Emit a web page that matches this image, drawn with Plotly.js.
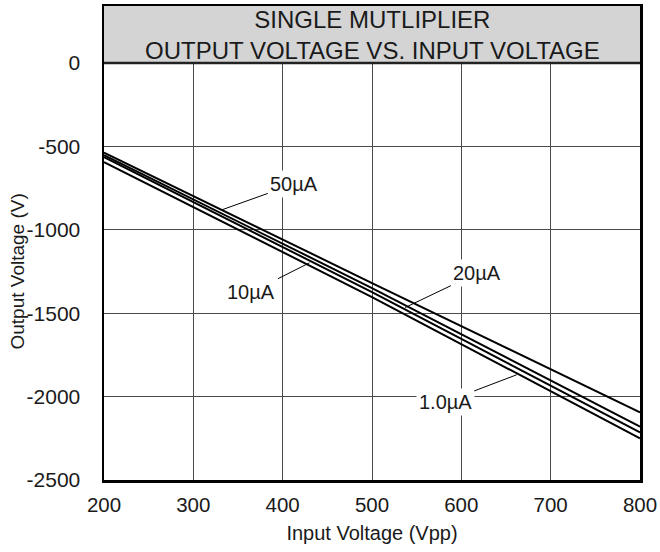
<!DOCTYPE html>
<html>
<head>
<meta charset="utf-8">
<script src="https://cdn.plot.ly/plotly-3.0.1.min.js"></script>
<style>html,body{margin:0;padding:0;background:#fff;}#chart{width:660px;height:552px;}</style>
</head>
<body>
<div id="chart"></div>
<script>
// Data
var inputVoltage = [200, 500, 800];
var out50uA = [-537, -1319, -2095];
var out20uA = [-552, -1349, -2180];
var out10uA = [-564, -1373, -2215];
var out1uA  = [-594, -1403, -2250];
var seriesNames = ['50µA', '20µA', '10µA', '1.0µA'];
var xTicks = [200, 300, 400, 500, 600, 700, 800];
var yTicks = [0, -500, -1000, -1500, -2000, -2500];

var FONT = 'Liberation Sans, Arial, sans-serif';
var INK = '#1a1a1a';
var lineStyle = {color: '#000', width: 2};
var traces = [out50uA, out20uA, out10uA, out1uA].map(function (ys, i) {
  return {x: inputVoltage, y: ys, type: 'scatter', mode: 'lines', name: seriesNames[i],
          line: lineStyle, hoverinfo: 'skip'};
});

function label(text, px, py, tx, ty) {
  return {text: text, x: px, y: py, ax: tx, ay: ty, xref: 'x', yref: 'y', axref: 'x', ayref: 'y',
          showarrow: true, arrowhead: 0, arrowwidth: 1, arrowcolor: '#000',
          bgcolor: '#fff', borderpad: 2, font: {family: FONT, size: 20, color: INK}};
}

var layout = {
  width: 660, height: 552,
  margin: {l: 104, r: 20, t: 6, b: 72},
  paper_bgcolor: '#fff', plot_bgcolor: '#fff',
  showlegend: false,
  font: {family: FONT, size: 20, color: INK},
  xaxis: {
    range: [200, 800], tickvals: xTicks, ticktext: xTicks.map(String),
    showgrid: true, gridcolor: '#4a4a4a', gridwidth: 1, zeroline: false,
    showline: true, linecolor: '#000', linewidth: 2.5, mirror: true,
    ticks: '', ticklabelstandoff: 5,
    tickfont: {family: FONT, size: 20.5, color: INK},
    title: {text: 'Input Voltage (Vpp)', font: {family: FONT, size: 20, color: INK}, standoff: 11}
  },
  yaxis: {
    range: [-2500, 342], tickvals: yTicks, ticktext: yTicks.map(String),
    showgrid: true, gridcolor: '#4a4a4a', gridwidth: 1, zeroline: false,
    showline: true, linecolor: '#000', linewidth: 2.5, mirror: true,
    ticks: '', ticklabelstandoff: 17,
    tickfont: {family: FONT, size: 21, color: INK}
  },
  shapes: [
    {type: 'rect', xref: 'paper', yref: 'y', x0: 0, x1: 1, y0: 0, y1: 342,
     fillcolor: '#d4d4d4', line: {width: 0}, layer: 'above'},
    {type: 'line', xref: 'paper', yref: 'y', x0: 0, x1: 1, y0: 0, y1: 0,
     line: {color: '#222', width: 2.5}, layer: 'above'}
  ],
  annotations: [
    {text: 'SINGLE MUTLIPLIER<br>OUTPUT VOLTAGE VS. INPUT VOLTAGE', xref: 'paper', yref: 'y',
     x: 0.5, y: 171, showarrow: false, align: 'center',
     font: {family: FONT, size: 24, color: INK}},
    {text: 'Output Voltage (V)', xref: 'paper', yref: 'y', x: 0, xshift: -86, xanchor: 'center',
     yanchor: 'middle', y: -1250,
     textangle: -90, showarrow: false, font: {family: FONT, size: 19, color: INK}},
    label('50µA', 332, -880, 413, -725),
    label('10µA', 430, -1198, 365, -1373),
    label('20µA', 537, -1466, 618, -1259),
    label('1.0µA', 662, -1869, 582, -2032)
  ]
};

Plotly.newPlot('chart', traces, layout, {displayModeBar: false, staticPlot: true});
</script>
</body>
</html>
